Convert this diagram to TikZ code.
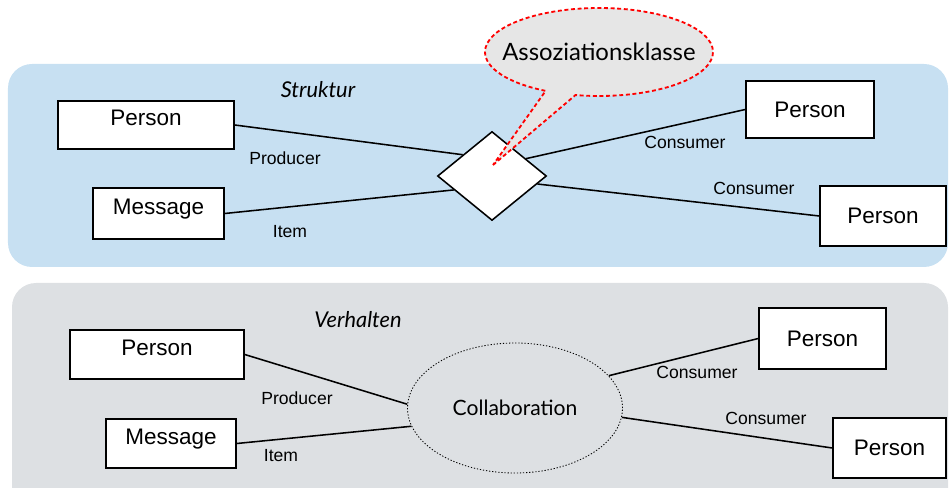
\documentclass[tikz,border=0pt]{standalone}
\usepackage{fontspec}
\setmainfont{Lato}
\newfontfamily\arialfont{Liberation Sans}
\usetikzlibrary{positioning,calc,shapes.geometric,shapes.callouts}
\definecolor{panelblue}{RGB}{199,224,242}
\definecolor{panelgray}{RGB}{221,224,227}
\definecolor{bubblegray}{RGB}{230,230,230}
\definecolor{bubblered}{RGB}{255,0,0}

\begin{document}
\begin{tikzpicture}[
    classbox/.style={rectangle, draw=black, line width=1.1pt, fill=white, inner sep=0pt,
                     font=\arialfont\fontsize{16}{19}\selectfont},
    raised/.style={text depth=0.35cm},
    relbox/.style={diamond, draw=black, line width=1.1pt, fill=white, inner sep=0pt,
                   minimum width=2.725cm, minimum height=2.225cm},
    collab/.style={ellipse, draw=black, dash pattern=on 0.9pt off 1.3pt, semithick, inner sep=0pt,
                   minimum width=5.375cm, minimum height=3.25cm,
                   font=\fontsize{15}{18}\selectfont},
    rolelabel/.style={font=\arialfont\fontsize{12.5}{15}\selectfont},
    viewtitle/.style={font=\itshape\fontsize{15.5}{18}\selectfont},
    assoc/.style={line width=1.1pt}
  ]
  \useasboundingbox (0,0) rectangle (23.725,12.175);

  % panels
  \fill[panelblue, rounded corners=0.6cm] (0.2,5.5) rectangle (23.7,10.575);
  \fill[panelgray, rounded corners=0.6cm] (0.3,-1) rectangle (23.7,5.1);

  % Struktur
  \node[viewtitle] (struktur) at (7.95,9.925) {Struktur};
  \node[classbox, raised, minimum width=4.4cm, minimum height=1.2cm] (prod) at (3.65,9.05) {Person};
  \node[classbox, raised, minimum width=3.275cm, minimum height=1.275cm] (msg) at (3.9625,6.8375) {Message};
  \node[relbox] (rel) at (12.3,7.775) {};
  \node[classbox, minimum width=3.2cm, minimum height=1.425cm] (cons1) at (20.25,9.4375) {Person};
  \node[classbox, minimum width=3.15cm, minimum height=1.5cm] (cons2) at (22.075,6.775) {Person};

  \draw[assoc] (prod.east) -- (rel.144);
  \draw[assoc] (msg.east) -- (rel.200);
  \draw[assoc] (rel.27) -- (cons1.west);
  \draw[assoc] (rel.350) -- (cons2.west);

  \node[rolelabel] (prodrole) at (7.125,8.225) {Producer};
  \node[rolelabel] (itemrole) at (7.25,6.375) {Item};
  \node[rolelabel] (consrole1) at (17.125,8.625) {Consumer};
  \node[rolelabel] (consrole2) at (18.85,7.475) {Consumer};

  \node[ellipse callout, draw=bubblered, dash pattern=on 2.8pt off 1.9pt, line width=1.3pt,
        fill=bubblegray, inner xsep=-0.5cm, inner ysep=0pt, minimum width=5.7cm, minimum height=2.2cm,
        callout absolute pointer={($(rel.center)+(0.025,0.275)$)}, callout pointer arc=16,
        font=\fontsize{17}{20}\selectfont] (bubble) at (14.975,10.875) {Assoziationsklasse};

  % Verhalten
  \node[viewtitle] (verhalten) at (8.95,4.175) {Verhalten};
  \node[classbox, raised, minimum width=4.35cm, minimum height=1.225cm] (prodb) at (3.925,3.3125) {Person};
  \node[classbox, raised, minimum width=3.25cm, minimum height=1.225cm] (msgb) at (4.275,1.0875) {Message};
  \node[collab] (coll) at (12.875,1.975) {Collaboration};
  \node[classbox, minimum width=3.175cm, minimum height=1.525cm] (cons1b) at (20.5625,3.7125) {Person};
  \node[classbox, minimum width=2.825cm, minimum height=1.5cm] (cons2b) at (22.2375,0.975) {Person};

  \draw[assoc] (prodb.east) -- (coll.178);
  \draw[assoc] (msgb.east) -- (coll.190);
  \draw[assoc] (coll.19) -- (cons1b.west);
  \draw[assoc] (coll.355) -- (cons2b.west);

  \node[rolelabel] (prodroleb) at (7.425,2.225) {Producer};
  \node[rolelabel] (itemroleb) at (7.025,0.775) {Item};
  \node[rolelabel] (consrole1b) at (17.425,2.875) {Consumer};
  \node[rolelabel] (consrole2b) at (19.15,1.725) {Consumer};
\end{tikzpicture}
\end{document}
